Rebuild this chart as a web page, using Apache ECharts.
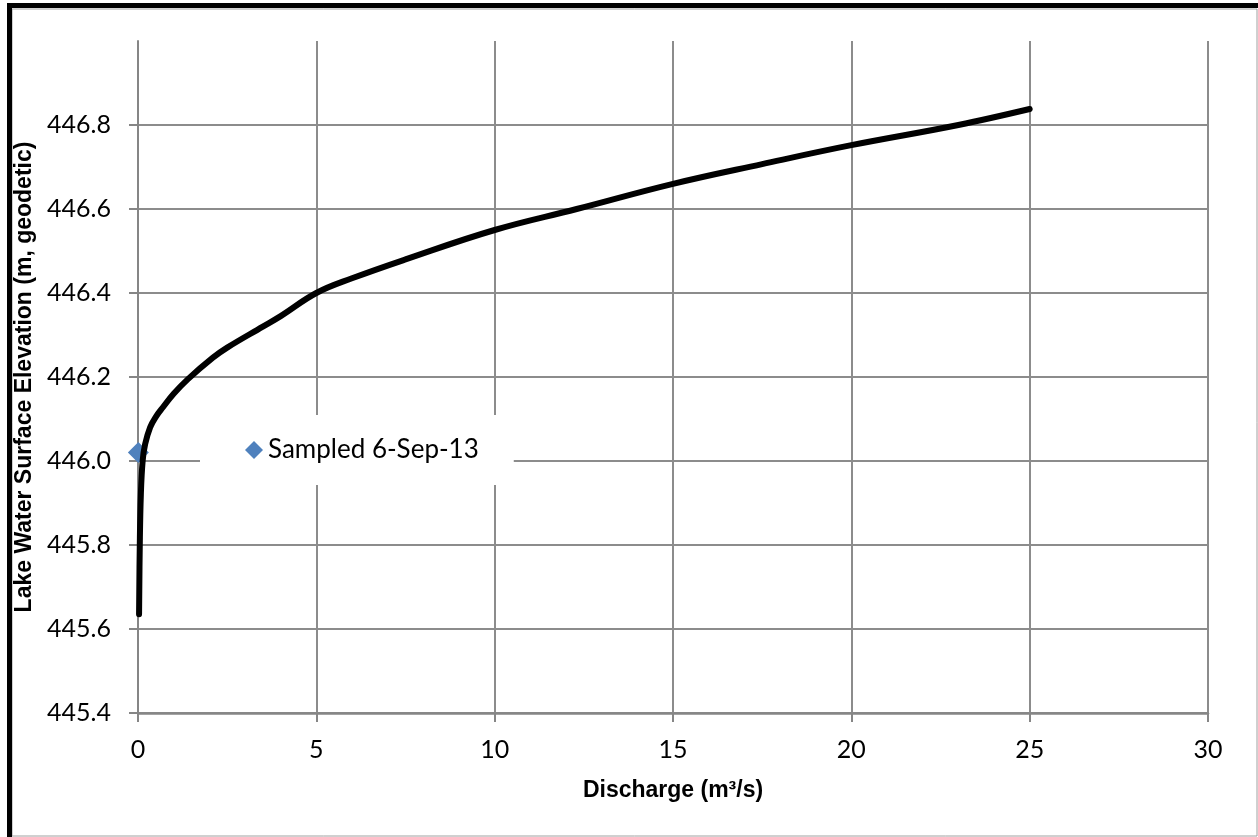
<!DOCTYPE html>
<html>
<head>
<meta charset="utf-8">
<script src="https://cdn.jsdelivr.net/npm/echarts@6/dist/echarts.min.js"></script>
<style>
html,body{margin:0;padding:0;background:#fff;}
#chart{width:1258px;height:837px;}
</style>
</head>
<body>
<div id="chart"></div>
<script>
// Rating curve: discharge (m3/s) vs lake water surface elevation (m)
var ratingQ = [0.03, 0.05, 0.08, 0.13, 0.2, 0.34, 0.5, 0.7, 1.0, 1.4, 2.1, 2.5, 3.5, 4.0, 5.0, 6.0, 7.5, 10, 12.3, 15, 17.5, 20, 23, 25];
var ratingE = [445.635, 445.80, 445.92, 446.0, 446.04, 446.08, 446.105, 446.128, 446.16, 446.195, 446.246, 446.27, 446.32, 446.345, 446.4, 446.435, 446.48, 446.55, 446.6, 446.66, 446.707, 446.752, 446.8, 446.838];
var sampledQ = [0.01];
var sampledE = [446.02];
var sampledName = 'Sampled 6-Sep-13';
var xTitle = 'Discharge (m\u00B3/s)';
var yTitle = 'Lake Water Surface Elevation (m, geodetic)';

var ratingData = ratingQ.map(function (q, i) { return [q, ratingE[i]]; });
var sampledData = sampledQ.map(function (q, i) { return [q, sampledE[i]]; });

var gridColor = '#8c8c8c';
var chart = echarts.init(document.getElementById('chart'), null, {renderer: 'canvas'});
chart.setOption({
  backgroundColor: '#ffffff',
  animation: false,
  graphic: [
    {type: 'rect', shape: {x: 12, y: 9, width: 1245, height: 827}, style: {fill: 'none', stroke: '#a0a0a0', lineWidth: 1}, z: -1},
    {type: 'rect', shape: {x: 7, y: 3, width: 5, height: 834}, style: {fill: '#000'}},
    {type: 'rect', shape: {x: 7, y: 3, width: 1251, height: 5}, style: {fill: '#000'}}
  ],
  grid: {left: 138, right: 50, top: 41, bottom: 124, containLabel: false},
  legend: {
    data: [{name: sampledName, icon: 'diamond'}],
    left: 200, top: 415,
    padding: [22, 35, 22, 45],
    backgroundColor: '#ffffff',
    itemWidth: 18, itemHeight: 18, itemGap: 6,
    textStyle: {fontFamily: 'Lato', fontSize: 26, color: '#000'},
    itemStyle: {opacity: 1},
    z: 10
  },
  xAxis: {
    type: 'value', min: 0, max: 30, interval: 5,
    name: xTitle, nameLocation: 'middle', nameGap: 66,
    nameTextStyle: {fontFamily: 'Liberation Sans, Arial', fontWeight: 'bold', fontSize: 23, color: '#000'},
    axisLine: {show: true, onZero: false, lineStyle: {color: '#868686', width: 2.5}},
    axisTick: {show: true, length: 9, lineStyle: {color: '#868686', width: 2}},
    axisLabel: {fontFamily: 'Lato', fontSize: 25, color: '#000', margin: 24},
    splitLine: {show: true, lineStyle: {color: gridColor, width: 2}}
  },
  yAxis: {
    type: 'value', min: 445.4, max: 447, interval: 0.2,
    name: yTitle, nameLocation: 'middle', nameGap: 92, nameRotate: 90,
    nameTextStyle: {fontFamily: 'Liberation Sans, Arial', fontWeight: 'bold', fontSize: 23, color: '#000'},
    axisLine: {show: true, onZero: false, lineStyle: {color: '#868686', width: 2}},
    axisTick: {show: true, length: 9, lineStyle: {color: '#868686', width: 2}},
    axisLabel: {fontFamily: 'Lato', fontSize: 25, color: '#000', margin: 27, showMaxLabel: false,
      formatter: function (v) { return v.toFixed(1); }},
    splitLine: {show: true, showMaxLine: false, lineStyle: {color: gridColor, width: 2}}
  },
  series: [
    {
      name: sampledName, type: 'scatter', data: sampledData,
      symbol: 'diamond', symbolSize: 21,
      itemStyle: {color: '#4F81BD', opacity: 1}, z: 2
    },
    {
      name: 'Rating', type: 'line', data: ratingData,
      showSymbol: false, smooth: 0.4,
      lineStyle: {color: '#000', width: 6, cap: 'round', join: 'round'}, z: 3
    }
  ]
});
</script>
</body>
</html>
